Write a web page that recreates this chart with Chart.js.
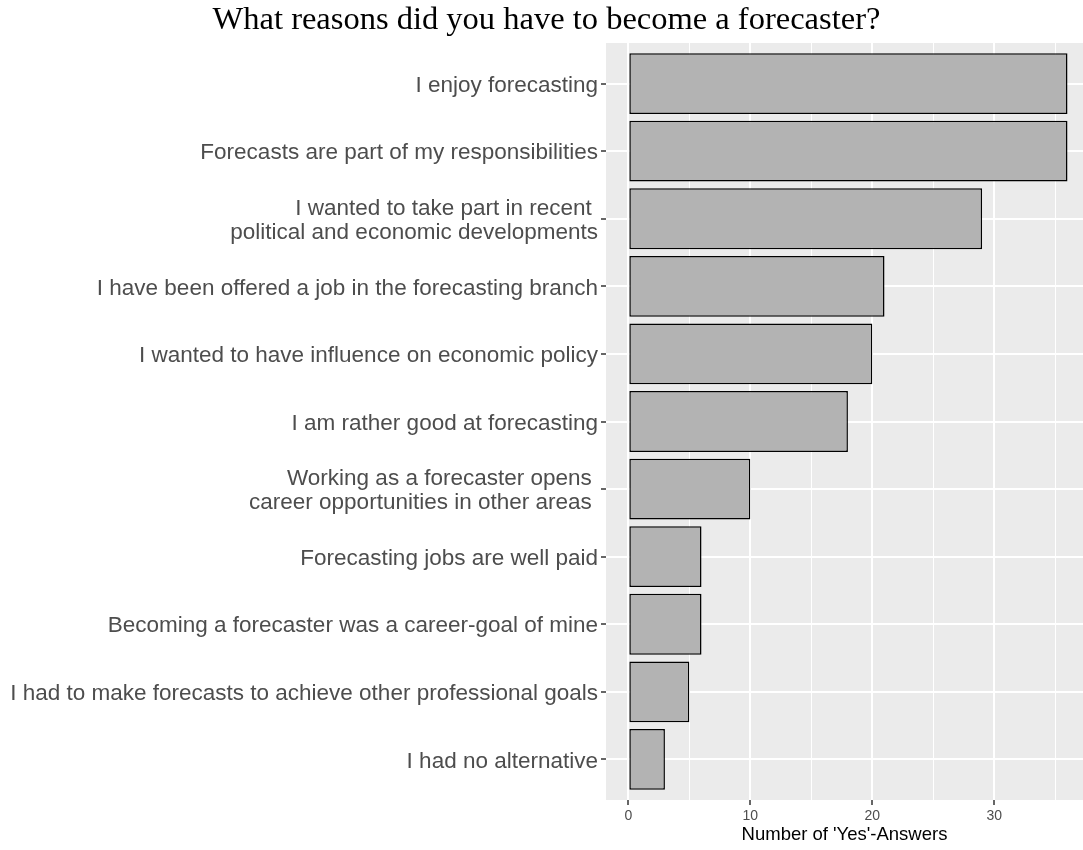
<!DOCTYPE html>
<html>
<head>
<meta charset="utf-8">
<script src="https://cdn.jsdelivr.net/npm/chart.js@4.4.0/dist/chart.umd.min.js"></script>
<style>
  body { margin: 0; background: #fff; }
  #wrap { width: 1083px; height: 850px; }
</style>
</head>
<body>
<div id="wrap"><canvas id="reasonsChart" width="1083" height="850"></canvas></div>
<script>
// reasons, top to bottom (multi-line labels as arrays)
const reasons = [
  "I enjoy forecasting",
  "Forecasts are part of my responsibilities",
  ["I wanted to take part in recent ", "political and economic developments"],
  "I have been offered a job in the forecasting branch",
  "I wanted to have influence on economic policy",
  "I am rather good at forecasting",
  ["Working as a forecaster opens ", "career opportunities in other areas "],
  "Forecasting jobs are well paid",
  "Becoming a forecaster was a career-goal of mine",
  "I had to make forecasts to achieve other professional goals",
  "I had no alternative"
];
const yesAnswers = [36, 36, 29, 21, 20, 18, 10, 6, 6, 5, 3];
const xTicks = [0, 5, 10, 15, 20, 25, 30, 35];

document.addEventListener("DOMContentLoaded", function () {
  // grey panel behind the bars, like ggplot
  const panelBg = {
    id: "panelBg",
    beforeDraw(chart) {
      const a = chart.chartArea;
      const c = chart.ctx;
      c.save();
      c.fillStyle = "#EBEBEB";
      c.fillRect(a.left, a.top, a.right - a.left, a.bottom - a.top);
      c.restore();
    },
  };

  const points = yesAnswers.map((v, i) => ({ x: v, y: i + 1 }));

  const ctx = document.getElementById("reasonsChart").getContext("2d");
  new Chart(ctx, {
    type: "bar",
    data: {
      datasets: [
        {
          data: points,
          backgroundColor: "#B3B3B3",
          borderColor: "#000000",
          borderWidth: 1.5,
          borderSkipped: false,
          barPercentage: 0.9,
          categoryPercentage: 1,
        },
      ],
    },
    options: {
      indexAxis: "y",
      responsive: false,
      animation: false,
      layout: { padding: { left: 10, right: 0, top: 0, bottom: 0 } },
      scales: {
        x: {
          type: "linear",
          min: -1.83,
          max: 37.27,
          afterBuildTicks: (axis) => {
            axis.ticks = xTicks.map((v) => ({ value: v }));
          },
          afterFit: (axis) => {
            axis.height = 50;
          },
          border: { display: false },
          grid: {
            color: "#FFFFFF",
            lineWidth: (c) => (c.tick && c.tick.value % 10 === 0 ? 2 : 1),
            tickColor: (c) => (c.tick && c.tick.value % 10 === 0 ? "#333333" : "rgba(0,0,0,0)"),
            tickLength: 5,
            tickWidth: 1.5,
          },
          ticks: {
            autoSkip: false,
            maxRotation: 0,
            color: "#4D4D4D",
            padding: 3,
            font: { family: "Liberation Sans", size: 14 },
            callback: (v) => (v % 10 === 0 ? String(v) : ""),
          },
          title: {
            display: true,
            text: "Number of 'Yes'-Answers",
            color: "#000000",
            font: { family: "Liberation Sans", size: 18.5 },
            padding: { top: 0, bottom: 4 },
          },
        },
        y: {
          type: "linear",
          reverse: true,
          offset: false,
          min: 0.4,
          max: 11.6,
          afterBuildTicks: (axis) => {
            axis.ticks = reasons.map((r, i) => ({ value: i + 1 }));
          },
          afterFit: (axis) => {
            axis.width = 596;
          },
          border: { display: false },
          grid: {
            offset: false,
            color: "#FFFFFF",
            lineWidth: 2,
            tickColor: "#333333",
            tickLength: 5,
            tickWidth: 1.5,
          },
          ticks: {
            autoSkip: false,
            color: "#4D4D4D",
            padding: 3,
            labelOffset: 2,
            font: { family: "Liberation Sans", size: 22.5, lineHeight: 1.05 },
            callback: (v) => reasons[Math.round(v) - 1],
          },
        },
      },
      plugins: {
        legend: { display: false },
        tooltip: { enabled: false },
        title: {
          display: true,
          text: "What reasons did you have to become a forecaster?",
          color: "#000000",
          font: { family: "Liberation Serif", size: 32.5, weight: "normal", lineHeight: 1 },
          padding: { top: 4, bottom: 6.5 },
        },
      },
    },
    plugins: [panelBg],
  });
});
</script>
</body>
</html>
